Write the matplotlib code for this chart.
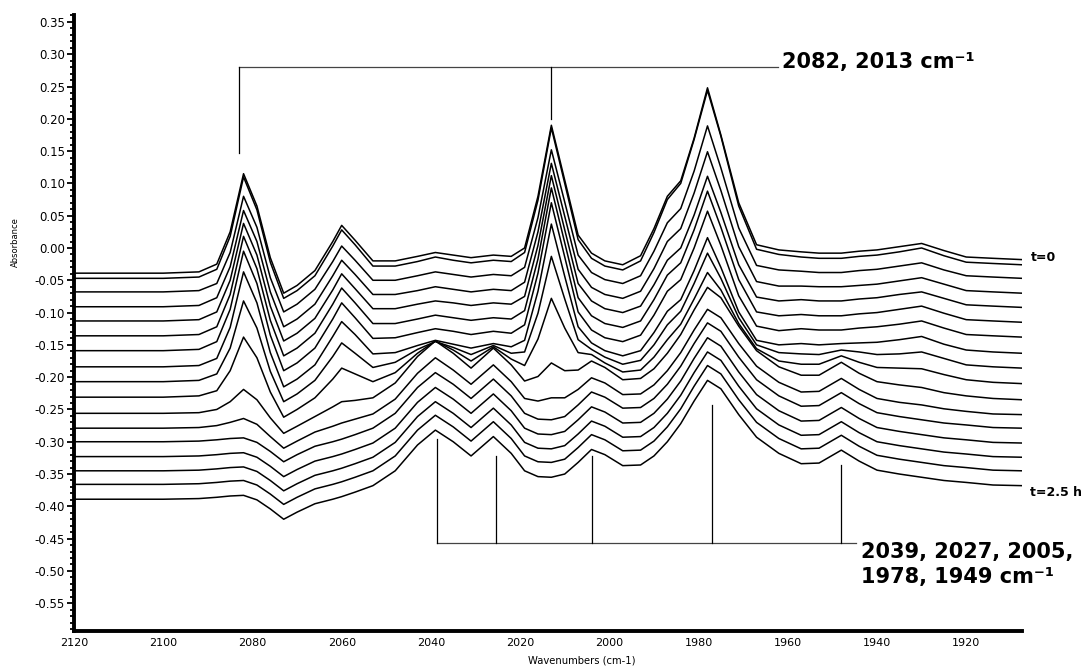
import matplotlib
matplotlib.use('Agg')
import matplotlib.pyplot as plt
from matplotlib.ticker import FixedLocator, MultipleLocator

plt.rcParams['font.family'] = ['DejaVu Sans']
plt.rcParams['axes.unicode_minus'] = False

# wavenumber grid (cm-1)
wavenumber = [2120, 2100, 2092, 2088, 2085, 2082, 2079, 2076, 2073, 2070,
              2066, 2062, 2060, 2057, 2053, 2048, 2043, 2039, 2035, 2031,
              2026, 2022, 2019, 2016, 2013, 2010, 2007, 2004, 2001, 1997,
              1993, 1990, 1987, 1984, 1981, 1978, 1975, 1971, 1967, 1962,
              1957, 1953, 1948, 1944, 1940, 1935, 1930, 1925, 1920, 1914, 1907.5]

# absorbance traces, t=0 first, t=2.5 h last (stacked as in the figure)
spec_00 = [-0.039, -0.039, -0.037, -0.025, 0.025, 0.115, 0.065, -0.015, -0.070, -0.058,
           -0.035, 0.010, 0.035, 0.012, -0.020, -0.020, -0.013, -0.007, -0.011, -0.015,
           -0.011, -0.013, 0.000, 0.080, 0.190, 0.105, 0.020, -0.008, -0.020, -0.026,
           -0.012, 0.030, 0.080, 0.104, 0.170, 0.248, 0.175, 0.070, 0.005, -0.003,
           -0.006, -0.008, -0.008, -0.005, -0.003, 0.002, 0.007, -0.004, -0.014, -0.016, -0.018]
spec_01 = [-0.047, -0.047, -0.045, -0.033, 0.018, 0.110, 0.059, -0.022, -0.078, -0.066,
           -0.043, 0.003, 0.028, 0.005, -0.028, -0.028, -0.021, -0.014, -0.019, -0.023,
           -0.019, -0.021, -0.007, 0.074, 0.186, 0.100, 0.013, -0.016, -0.028, -0.034,
           -0.020, 0.024, 0.075, 0.100, 0.168, 0.244, 0.173, 0.065, -0.002, -0.010,
           -0.014, -0.016, -0.016, -0.013, -0.011, -0.006, 0.000, -0.012, -0.022, -0.024, -0.026]
spec_02 = [-0.068, -0.068, -0.066, -0.055, -0.007, 0.080, 0.032, -0.046, -0.099, -0.087,
           -0.064, -0.021, 0.003, -0.019, -0.050, -0.050, -0.043, -0.037, -0.041, -0.045,
           -0.041, -0.043, -0.030, 0.047, 0.152, 0.071, -0.011, -0.038, -0.049, -0.055,
           -0.043, -0.005, 0.039, 0.061, 0.119, 0.189, 0.124, 0.031, -0.027, -0.034,
           -0.036, -0.038, -0.038, -0.035, -0.033, -0.028, -0.023, -0.034, -0.043, -0.045, -0.047]
spec_03 = [-0.091, -0.091, -0.089, -0.077, -0.029, 0.058, 0.010, -0.068, -0.122, -0.110,
           -0.087, -0.043, -0.019, -0.041, -0.072, -0.072, -0.066, -0.060, -0.064, -0.068,
           -0.064, -0.066, -0.053, 0.025, 0.131, 0.049, -0.033, -0.061, -0.072, -0.078,
           -0.067, -0.032, 0.010, 0.030, 0.085, 0.149, 0.089, 0.002, -0.052, -0.059,
           -0.059, -0.060, -0.060, -0.058, -0.056, -0.051, -0.046, -0.056, -0.066, -0.068, -0.070]
spec_04 = [-0.113, -0.113, -0.111, -0.099, -0.050, 0.038, -0.011, -0.090, -0.144, -0.132,
           -0.109, -0.065, -0.040, -0.063, -0.094, -0.094, -0.087, -0.082, -0.085, -0.089,
           -0.085, -0.087, -0.075, 0.004, 0.112, 0.028, -0.055, -0.082, -0.094, -0.100,
           -0.090, -0.057, -0.019, 0.000, 0.051, 0.111, 0.055, -0.026, -0.076, -0.082,
           -0.080, -0.082, -0.082, -0.079, -0.077, -0.072, -0.068, -0.078, -0.088, -0.090, -0.092]
spec_05 = [-0.136, -0.136, -0.134, -0.122, -0.072, 0.018, -0.032, -0.112, -0.167, -0.155,
           -0.132, -0.087, -0.062, -0.085, -0.117, -0.117, -0.110, -0.104, -0.108, -0.112,
           -0.108, -0.110, -0.097, -0.017, 0.093, 0.008, -0.077, -0.105, -0.117, -0.123,
           -0.113, -0.080, -0.042, -0.023, 0.028, 0.088, 0.032, -0.049, -0.099, -0.105,
           -0.103, -0.105, -0.105, -0.102, -0.100, -0.095, -0.090, -0.101, -0.111, -0.113, -0.115]
spec_06 = [-0.159, -0.159, -0.157, -0.145, -0.095, -0.005, -0.055, -0.135, -0.190, -0.178,
           -0.155, -0.110, -0.085, -0.108, -0.140, -0.139, -0.131, -0.125, -0.129, -0.134,
           -0.129, -0.132, -0.119, -0.039, 0.070, -0.014, -0.099, -0.127, -0.139, -0.145,
           -0.135, -0.104, -0.067, -0.049, 0.000, 0.057, 0.004, -0.074, -0.121, -0.128,
           -0.125, -0.127, -0.127, -0.124, -0.122, -0.118, -0.113, -0.124, -0.134, -0.136, -0.138]
spec_07 = [-0.184, -0.184, -0.182, -0.171, -0.123, -0.037, -0.085, -0.162, -0.215, -0.203,
           -0.181, -0.137, -0.114, -0.134, -0.164, -0.162, -0.151, -0.143, -0.149, -0.155,
           -0.148, -0.153, -0.143, -0.067, 0.037, -0.044, -0.122, -0.147, -0.159, -0.167,
           -0.159, -0.131, -0.098, -0.080, -0.035, 0.016, -0.030, -0.099, -0.143, -0.150,
           -0.148, -0.150, -0.148, -0.147, -0.146, -0.142, -0.137, -0.149, -0.158, -0.161, -0.163]
spec_08 = [-0.207, -0.207, -0.205, -0.195, -0.155, -0.082, -0.124, -0.191, -0.238, -0.226,
           -0.205, -0.168, -0.147, -0.163, -0.185, -0.177, -0.157, -0.145, -0.154, -0.165,
           -0.151, -0.163, -0.161, -0.101, -0.013, -0.079, -0.142, -0.157, -0.169, -0.180,
           -0.174, -0.150, -0.119, -0.098, -0.055, -0.008, -0.047, -0.108, -0.150, -0.162,
           -0.164, -0.165, -0.158, -0.161, -0.165, -0.164, -0.161, -0.171, -0.181, -0.184, -0.186]
spec_09 = [-0.231, -0.231, -0.229, -0.221, -0.190, -0.138, -0.170, -0.223, -0.262, -0.250,
           -0.232, -0.203, -0.186, -0.195, -0.207, -0.193, -0.163, -0.144, -0.158, -0.175,
           -0.153, -0.172, -0.182, -0.141, -0.078, -0.124, -0.162, -0.165, -0.178, -0.192,
           -0.189, -0.169, -0.142, -0.118, -0.079, -0.038, -0.065, -0.117, -0.156, -0.175,
           -0.180, -0.180, -0.167, -0.177, -0.185, -0.186, -0.187, -0.196, -0.204, -0.208, -0.210]
spec_10 = [-0.256, -0.256, -0.255, -0.250, -0.238, -0.219, -0.235, -0.263, -0.287, -0.276,
           -0.261, -0.246, -0.238, -0.236, -0.232, -0.209, -0.168, -0.144, -0.163, -0.186,
           -0.155, -0.181, -0.206, -0.199, -0.178, -0.190, -0.189, -0.175, -0.185, -0.204,
           -0.202, -0.187, -0.163, -0.134, -0.096, -0.061, -0.077, -0.121, -0.159, -0.184,
           -0.197, -0.197, -0.177, -0.194, -0.207, -0.212, -0.216, -0.224, -0.229, -0.233, -0.235]
spec_11 = [-0.279, -0.279, -0.278, -0.275, -0.270, -0.264, -0.273, -0.292, -0.310, -0.299,
           -0.285, -0.276, -0.271, -0.265, -0.257, -0.234, -0.194, -0.170, -0.189, -0.211,
           -0.181, -0.207, -0.233, -0.237, -0.232, -0.232, -0.219, -0.201, -0.209, -0.227,
           -0.226, -0.212, -0.190, -0.162, -0.127, -0.095, -0.108, -0.148, -0.183, -0.208,
           -0.223, -0.222, -0.202, -0.219, -0.233, -0.239, -0.243, -0.249, -0.253, -0.257, -0.258]
spec_12 = [-0.300, -0.300, -0.299, -0.297, -0.295, -0.294, -0.301, -0.315, -0.331, -0.320,
           -0.307, -0.300, -0.296, -0.289, -0.279, -0.256, -0.216, -0.193, -0.211, -0.233,
           -0.203, -0.229, -0.256, -0.265, -0.266, -0.261, -0.243, -0.223, -0.231, -0.248,
           -0.247, -0.233, -0.211, -0.183, -0.148, -0.116, -0.129, -0.169, -0.204, -0.229,
           -0.245, -0.244, -0.224, -0.241, -0.255, -0.261, -0.266, -0.271, -0.274, -0.278, -0.279]
spec_13 = [-0.323, -0.323, -0.322, -0.320, -0.318, -0.317, -0.324, -0.338, -0.354, -0.343,
           -0.330, -0.323, -0.319, -0.312, -0.302, -0.279, -0.239, -0.216, -0.234, -0.256,
           -0.226, -0.252, -0.279, -0.288, -0.289, -0.284, -0.266, -0.246, -0.254, -0.271,
           -0.270, -0.256, -0.234, -0.206, -0.171, -0.139, -0.152, -0.192, -0.227, -0.252,
           -0.268, -0.267, -0.247, -0.264, -0.278, -0.284, -0.289, -0.294, -0.297, -0.301, -0.302]
spec_14 = [-0.345, -0.345, -0.344, -0.342, -0.340, -0.339, -0.346, -0.360, -0.376, -0.365,
           -0.352, -0.345, -0.341, -0.334, -0.324, -0.301, -0.261, -0.238, -0.256, -0.278,
           -0.248, -0.274, -0.301, -0.310, -0.311, -0.306, -0.288, -0.268, -0.276, -0.293,
           -0.292, -0.278, -0.256, -0.228, -0.193, -0.161, -0.174, -0.214, -0.249, -0.274,
           -0.290, -0.289, -0.269, -0.286, -0.300, -0.306, -0.311, -0.316, -0.319, -0.323, -0.324]
spec_15 = [-0.366, -0.366, -0.365, -0.363, -0.361, -0.360, -0.367, -0.381, -0.397, -0.386,
           -0.373, -0.366, -0.362, -0.355, -0.345, -0.322, -0.282, -0.259, -0.277, -0.299,
           -0.269, -0.295, -0.322, -0.331, -0.332, -0.327, -0.309, -0.289, -0.297, -0.314,
           -0.313, -0.299, -0.277, -0.249, -0.214, -0.182, -0.195, -0.235, -0.270, -0.295,
           -0.311, -0.310, -0.290, -0.307, -0.321, -0.327, -0.332, -0.337, -0.340, -0.344, -0.345]
spec_16 = [-0.389, -0.389, -0.388, -0.386, -0.384, -0.383, -0.390, -0.404, -0.420, -0.409,
           -0.396, -0.389, -0.385, -0.378, -0.368, -0.345, -0.305, -0.282, -0.300, -0.322,
           -0.292, -0.318, -0.345, -0.354, -0.355, -0.350, -0.332, -0.312, -0.320, -0.337,
           -0.336, -0.322, -0.300, -0.272, -0.237, -0.205, -0.218, -0.258, -0.293, -0.318,
           -0.334, -0.333, -0.313, -0.330, -0.344, -0.350, -0.355, -0.360, -0.363, -0.367, -0.368]

spectra = [spec_00, spec_01, spec_02, spec_03, spec_04, spec_05, spec_06, spec_07, spec_08,
           spec_09, spec_10, spec_11, spec_12, spec_13, spec_14, spec_15, spec_16]

# peak markers (positions as drawn in the figure)
top_marks = [2083.0, 2013.0]
top_marks_end = [0.147, 0.200]
top_label = '2082, 2013 cm⁻¹'
bottom_marks = [2038.7, 2025.3, 2003.8, 1976.9, 1948.0]
bottom_marks_end = [-0.296, -0.322, -0.322, -0.243, -0.336]
bottom_label_1 = '2039, 2027, 2005,'
bottom_label_2 = '1978, 1949 cm⁻¹'
time_first = 't=0'
time_last = 't=2.5 h'

xticks = [2120, 2100, 2080, 2060, 2040, 2020, 2000, 1980, 1960, 1940, 1920]
yticks = [-0.55, -0.50, -0.45, -0.40, -0.35, -0.30, -0.25, -0.20, -0.15, -0.10, -0.05,
          0.00, 0.05, 0.10, 0.15, 0.20, 0.25, 0.30, 0.35]

fig = plt.figure(figsize=(10.87, 6.67), dpi=100)
ax = fig.add_axes([0.0681, 0.0540, 0.8721, 0.9235])

for spec in spectra:
    ax.plot(wavenumber, spec, color='black', linewidth=1.1)

ax.set_xlim(2120, 1907.5)
ax.set_ylim(-0.593, 0.3607)

# bracket for the decaying bands
ax.plot([top_marks[0], 1962.3], [0.280, 0.280], color='#444444', linewidth=0.9)
for x, y in zip(top_marks, top_marks_end):
    ax.plot([x, x], [0.280, y], color='black', linewidth=0.9)
ax.text(1961.4, 0.279, top_label, fontsize=15, fontweight='bold', va='baseline', ha='left')

# bracket for the growing bands
ax.plot([bottom_marks[0], 1944.6], [-0.457, -0.457], color='#444444', linewidth=0.9)
for x, y in zip(bottom_marks, bottom_marks_end):
    ax.plot([x, x], [-0.457, y], color='black', linewidth=0.9)
ax.text(1943.5, -0.480, bottom_label_1, fontsize=15, fontweight='bold', va='baseline',
        ha='left', clip_on=False)
ax.text(1943.5, -0.519, bottom_label_2, fontsize=15, fontweight='bold', va='baseline',
        ha='left', clip_on=False)

ax.text(1905.6, -0.0155, time_first, fontsize=9, fontweight='bold', va='center', ha='left')
ax.text(1905.6, -0.378, time_last, fontsize=9, fontweight='bold', va='center', ha='left')

ax.xaxis.set_major_locator(FixedLocator(xticks))
ax.set_xticklabels([str(t) for t in xticks])
ax.yaxis.set_major_locator(FixedLocator(yticks))
ax.set_yticklabels(['%.2f' % t for t in yticks])
ax.yaxis.set_minor_locator(MultipleLocator(0.01))

ax.tick_params(axis='x', length=0, pad=5, labelsize=8)
ax.tick_params(axis='y', which='major', length=5, width=1.3, pad=1.5, labelsize=8.5)
ax.tick_params(axis='y', which='minor', length=3.2, width=1.3)

for side in ['top', 'right']:
    ax.spines[side].set_visible(False)
for side in ['left', 'bottom']:
    ax.spines[side].set_linewidth(2.8)

fig.text(0.0138, 0.637, 'Absorbance', rotation=90, fontsize=6, ha='center', va='center')
fig.text(0.535, 0.009, 'Wavenumbers (cm-1)', fontsize=7.2, ha='center', va='center')

fig.savefig('out.png', dpi=100)
